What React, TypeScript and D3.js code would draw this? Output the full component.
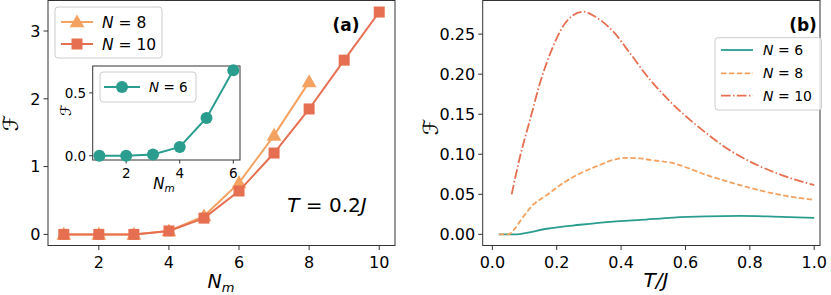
import React from 'react';
import * as d3 from 'd3';

// panel (a): F vs N_m at T = 0.2J
const nmN10 = [1, 2, 3, 4, 5, 6, 7, 8, 9, 10];
const fN10 = [0, 0, 0, 0.05, 0.24, 0.64, 1.2, 1.85, 2.57, 3.28];
const nmN8 = [1, 2, 3, 4, 5, 6, 7, 8];
const fN8 = [0, 0, 0, 0.05, 0.27, 0.76, 1.46, 2.25];
// inset
const nmN6 = [1, 2, 3, 4, 5, 6];
const fN6 = [0, 0, 0.01, 0.07, 0.3, 0.68];

// panel (b): F vs T/J
const tN6 = [0.02, 0.076, 0.107, 0.169, 0.272, 0.376, 0.459, 0.562, 0.666, 0.769, 0.873, 1.0];
const gN6 = [0, 0, 0.002, 0.007, 0.012, 0.016, 0.018, 0.021, 0.0225, 0.023, 0.0222, 0.0205];
const tN8 = [0.02, 0.05, 0.065, 0.096, 0.127, 0.169, 0.22, 0.272, 0.324, 0.376, 0.417, 0.459, 0.49, 0.562, 0.666, 0.769, 0.873, 1.0];
const gN8 = [0, 0, 0.005, 0.022, 0.037, 0.049, 0.064, 0.076, 0.085, 0.093, 0.0955, 0.095, 0.093, 0.0888, 0.074, 0.0616, 0.051, 0.043];
const tN10 = [0.06, 0.086, 0.117, 0.148, 0.184, 0.22, 0.252, 0.283, 0.319, 0.376, 0.428, 0.49, 0.552, 0.614, 0.666, 0.728, 0.79, 0.873, 0.935, 1.0];
const gN10 = [0.05, 0.097, 0.143, 0.189, 0.23, 0.26, 0.274, 0.278, 0.272, 0.253, 0.226, 0.193, 0.166, 0.143, 0.126, 0.1075, 0.093, 0.078, 0.069, 0.0616];

const ticksA = [2, 4, 6, 8, 10];
const yTicksA = [0, 1, 2, 3];
const ticksInset = [2, 4, 6];
const yTicksInset = [0, 0.5];
const ticksB = [0, 0.2, 0.4, 0.6, 0.8, 1.0];
const yTicksB = [0, 0.05, 0.1, 0.15, 0.2, 0.25];

const teal = '#2a9d8f';
const orange = '#f4a261';
const red = '#e76f51';
const spine = '#333';
const font = 'DejaVu Sans';

const xA = d3.scaleLinear().domain([0.55, 10.45]).range([48, 395]);
const yA = d3.scaleLinear().domain([-0.164, 3.45]).range([245.5, 0.5]);
const xI = d3.scaleLinear().domain([0.75, 6.25]).range([92.7, 240]);
const yI = d3.scaleLinear().domain([-0.034, 0.714]).range([160, 66]);
const xB = d3.scaleLinear().domain([-0.03, 1.018]).range([482.7, 820]);
const yB = d3.scaleLinear().domain([-0.0139, 0.292]).range([245.5, 0.5]);

const pts = (xs: number[], ys: number[]) => xs.map((x, i) => [x, ys[i]] as [number, number]);

function lineA(x: any, y: any, xs: number[], ys: number[]) {
  return d3.line<[number, number]>().x(d => x(d[0])).y(d => y(d[1]))(pts(xs, ys)) || '';
}
function curveB(xs: number[], ys: number[]) {
  return d3.line<[number, number]>().x(d => xB(d[0])).y(d => yB(d[1])).curve(d3.curveMonotoneX)(pts(xs, ys)) || '';
}

const tri = d3.symbol().type(d3.symbolTriangle).size(95)() || '';

function Frame({ x, y, xt, yt, fs, fmt, tl }: any) {
  const [x0, x1] = x.range();
  const [y1, y0] = y.range();
  return (
    <g fontFamily={font} fontSize={fs} fill="#000">
      <rect x={x0} y={y0} width={x1 - x0} height={y1 - y0} fill="none" stroke={spine} strokeWidth={1} />
      {xt.map((t: number) => (
        <g key={'x' + t}>
          <line x1={x(t)} x2={x(t)} y1={y1} y2={y1 + tl} stroke={spine} />
          <text x={x(t)} y={y1 + tl + fs * 1.1} textAnchor="middle">{fmt.x(t)}</text>
        </g>
      ))}
      {yt.map((t: number) => (
        <g key={'y' + t}>
          <line x1={x0 - tl} x2={x0} y1={y(t)} y2={y(t)} stroke={spine} />
          <text x={x0 - tl - 3} y={y(t)} dy="0.36em" textAnchor="end">{fmt.y(t)}</text>
        </g>
      ))}
    </g>
  );
}

const NLabel = ({ n }: { n: number }) => (
  <>
    <tspan fontStyle="italic">N</tspan>
    <tspan> = {n}</tspan>
  </>
);

export default function App() {
  return (
    <svg width={831} height={295} style={{ position: 'absolute', left: 0, top: 0 }}>
      <rect width={831} height={295} fill="#fff" />

      {/* panel (a) */}
      <Frame x={xA} y={yA} xt={ticksA} yt={yTicksA} fs={16} tl={4.5}
        fmt={{ x: (t: number) => String(t), y: (t: number) => String(t) }} />
      <path d={lineA(xA, yA, nmN8, fN8)} fill="none" stroke={orange} strokeWidth={2} />
      {nmN8.map((n, i) => (
        <path key={'t' + n} d={tri} transform={`translate(${xA(n)},${yA(fN8[i]) + 1})`} fill={orange} />
      ))}
      <path d={lineA(xA, yA, nmN10, fN10)} fill="none" stroke={red} strokeWidth={2} />
      {nmN10.map((n, i) => (
        <rect key={'s' + n} x={xA(n) - 5.5} y={yA(fN10[i]) - 5.5} width={11} height={11} fill={red} />
      ))}
      <text x={346} y={31} fontFamily={font} fontWeight="bold" fontSize={17} textAnchor="middle">(a)</text>
      <text x={327} y={212} fontFamily={font} fontSize={20} textAnchor="middle">
        <tspan fontStyle="italic">T</tspan><tspan> = 0.2</tspan><tspan fontStyle="italic">J</tspan>
      </text>
      <text x={221} y={288} fontFamily={font} fontSize={19} textAnchor="middle">
        <tspan fontStyle="italic">N</tspan><tspan fontStyle="italic" fontSize={13} dy={4}>m</tspan>
      </text>
      <text transform="translate(18,123) rotate(-90)" fontFamily={font} fontSize={21} textAnchor="middle">ℱ</text>

      {/* legend (a) */}
      <g fontFamily={font} fontSize={15.5}>
        <rect x={55} y={7} width={107} height={51} rx={3} fill="#fff" fillOpacity={0.8} stroke="#ccc" />
        <line x1={61} x2={93} y1={22} y2={22} stroke={orange} strokeWidth={2} />
        <path d={tri} transform="translate(77,23)" fill={orange} />
        <text x={102} y={22} dy="0.36em"><NLabel n={8} /></text>
        <line x1={61} x2={93} y1={44} y2={44} stroke={red} strokeWidth={2} />
        <rect x={71.5} y={38.5} width={11} height={11} fill={red} />
        <text x={102} y={44} dy="0.36em"><NLabel n={10} /></text>
      </g>

      {/* inset */}
      <rect x={92.7} y={66} width={147.3} height={94} fill="#fff" />
      <Frame x={xI} y={yI} xt={ticksInset} yt={yTicksInset} fs={13.5} tl={3.5}
        fmt={{ x: (t: number) => String(t), y: (t: number) => t.toFixed(1) }} />
      <path d={lineA(xI, yI, nmN6, fN6)} fill="none" stroke={teal} strokeWidth={2} />
      {nmN6.map((n, i) => (
        <circle key={'c' + n} cx={xI(n)} cy={yI(fN6[i])} r={6} fill={teal} />
      ))}
      <g fontFamily={font} fontSize={13.5}>
        <rect x={100} y={72} width={96} height={30} rx={3} fill="#fff" fillOpacity={0.8} stroke="#ccc" />
        <line x1={104} x2={140} y1={87} y2={87} stroke={teal} strokeWidth={2} />
        <circle cx={122} cy={87} r={6} fill={teal} />
        <text x={149} y={87} dy="0.36em"><NLabel n={6} /></text>
      </g>
      <text x={164} y={189} fontFamily={font} fontSize={15} textAnchor="middle">
        <tspan fontStyle="italic">N</tspan><tspan fontStyle="italic" fontSize={10.5} dy={3}>m</tspan>
      </text>
      <text transform="translate(71,110) rotate(-90)" fontFamily={font} fontSize={15} textAnchor="middle">ℱ</text>

      {/* panel (b) */}
      <Frame x={xB} y={yB} xt={ticksB} yt={yTicksB} fs={16} tl={4.5}
        fmt={{ x: (t: number) => t.toFixed(1), y: (t: number) => t.toFixed(2) }} />
      <path d={curveB(tN6, gN6)} fill="none" stroke={teal} strokeWidth={1.8} />
      <path d={curveB(tN8, gN8)} fill="none" stroke={orange} strokeWidth={1.8} strokeDasharray="5.5,2.4" />
      <path d={curveB(tN10, gN10)} fill="none" stroke={red} strokeWidth={1.8} strokeDasharray="9.6,2.4,1.5,2.4" />
      <text x={803} y={31} fontFamily={font} fontWeight="bold" fontSize={17} textAnchor="middle">(b)</text>
      <text x={656} y={287} fontFamily={font} fontSize={20} textAnchor="middle">
        <tspan fontStyle="italic">T/J</tspan>
      </text>
      <text transform="translate(438,127) rotate(-90)" fontFamily={font} fontSize={21} textAnchor="middle">ℱ</text>

      {/* legend (b) */}
      <g fontFamily={font} fontSize={14}>
        <rect x={715} y={37.7} width={106.5} height={72.3} rx={3} fill="#fff" fillOpacity={0.8} stroke="#ccc" />
        <line x1={721} x2={753} y1={50} y2={50} stroke={teal} strokeWidth={1.8} />
        <text x={763} y={50} dy="0.36em"><NLabel n={6} /></text>
        <line x1={721} x2={753} y1={73.3} y2={73.3} stroke={orange} strokeWidth={1.8} strokeDasharray="5.5,2.4" />
        <text x={763} y={73.3} dy="0.36em"><NLabel n={8} /></text>
        <line x1={721} x2={753} y1={95.7} y2={95.7} stroke={red} strokeWidth={1.8} strokeDasharray="9.6,2.4,1.5,2.4" />
        <text x={763} y={95.7} dy="0.36em"><NLabel n={10} /></text>
      </g>
    </svg>
  );
}
